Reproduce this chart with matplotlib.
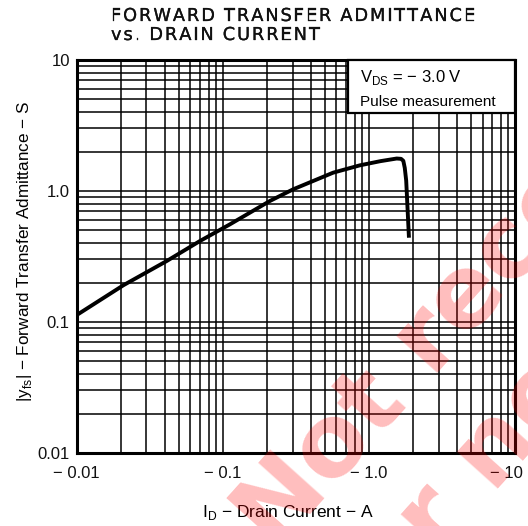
import matplotlib
matplotlib.use("Agg")
import matplotlib.pyplot as plt
import matplotlib.transforms as mtrans
import matplotlib.patheffects as pe
from matplotlib.ticker import LogLocator, FixedLocator, NullFormatter

# --- data (|I_D| in A, |yfs| in S) ---
id_a = [0.01, 0.0209, 0.0413, 0.0697, 0.112, 0.21, 0.303, 0.569, 0.867,
        1.2, 1.55, 1.66, 1.72, 1.76, 1.80, 1.88]
yfs_s = [0.113, 0.191, 0.292, 0.415, 0.557, 0.839, 1.03, 1.38, 1.57,
         1.69, 1.77, 1.76, 1.70, 1.50, 1.20, 0.44]

x_ticks = [0.01, 0.1, 1.0, 10]
x_labels = ["\u2212 0.01", "\u2212 0.1", "\u2212 1.0", "\u2212 10"]
y_ticks = [0.01, 0.1, 1.0, 10]
y_labels = ["0.01", "0.1", "1.0", "10"]

MINUS = "\u2212"

plt.rcParams["font.family"] = ["Liberation Sans", "DejaVu Sans"]
W, H = 528, 526
fig = plt.figure(figsize=(W / 100, H / 100), dpi=100)
ax = fig.add_axes([76.7 / W, 1 - 453 / H, 438.3 / W, 393 / H])

ax.set_xscale("log")
ax.set_yscale("log")
ax.set_xlim(0.01, 10)
ax.set_ylim(0.01, 10)

# grid: full decades + 2..9 lines
ax.xaxis.set_major_locator(FixedLocator(x_ticks))
ax.yaxis.set_major_locator(FixedLocator(y_ticks))
ax.xaxis.set_minor_locator(LogLocator(base=10, subs=range(2, 10)))
ax.yaxis.set_minor_locator(LogLocator(base=10, subs=range(2, 10)))
ax.xaxis.set_minor_formatter(NullFormatter())
ax.yaxis.set_minor_formatter(NullFormatter())
ax.set_xticklabels(x_labels)
ax.set_yticklabels(y_labels)
ax.grid(which="both", color="black", linewidth=1.1)
ax.tick_params(which="both", length=0, labelsize=12, colors="#111111")
ax.tick_params(axis="x", pad=9)
ax.tick_params(axis="y", pad=5)
for sp in ax.spines.values():
    sp.set_linewidth(2.2)

# last x label sits a bit to the left of the frame edge
lbl = ax.get_xticklabels()[-1]
lbl.set_transform(lbl.get_transform() + mtrans.ScaledTranslation(-9 / 100, 0, fig.dpi_scale_trans))

ax.plot(id_a, yfs_s, color="black", linewidth=2.8, solid_capstyle="butt",
        solid_joinstyle="round", zorder=3)

# condition box
fig.patches.append(plt.Rectangle((348 / W, 1 - 113 / H), (515 - 348) / W, (113 - 60) / H,
                                 transform=fig.transFigure, facecolor="white",
                                 edgecolor="black", linewidth=1.6, zorder=5))
fig.text(360 / W, 1 - 82 / H, r"V$_\mathregular{DS}$ = " + MINUS + " 3.0 V",
         fontsize=12, zorder=6)
fig.text(360 / W, 1 - 106 / H, "Pulse measurement", fontsize=11, zorder=6)

ax.set_xlabel(r"I$_\mathregular{D}$ " + MINUS + " Drain Current " + MINUS + " A", fontsize=12.5)
ax.xaxis.set_label_coords((288 - 76.7) / 438.3, -(512 - 453) / 393)
ax.xaxis.label.set_va("center")
ax.set_ylabel(r"|y$_\mathregular{fs}$| " + MINUS + " Forward Transfer Admittance " + MINUS + " S",
              fontsize=12.3)
ax.yaxis.set_label_coords(-(76.7 - 25) / 438.3, (453 - 252) / 393)
ax.yaxis.label.set_va("center")


# title, letter-spaced to the reference width
TFONT = dict(family="DejaVu Sans", fontweight="normal", color="#111111")
THICK = [pe.withStroke(linewidth=0.2, foreground="#111111")]


def char_w(ch, size):
    r = fig.canvas.get_renderer()
    if ch == " ":
        return size * 0.4
    t = fig.text(0, 0, ch, fontsize=size, **TFONT)
    w = t.get_window_extent(r).width
    t.remove()
    return w


def spaced(x0, y0, s, track, size):
    x = x0
    for ch in s:
        if ch != " ":
            fig.text(x / W, 1 - y0 / H, ch, fontsize=size, path_effects=THICK, **TFONT)
        x += char_w(ch, size) + track


t1 = "FORWARD TRANSFER ADMITTANCE"
t2 = "vs. DRAIN CURRENT"
tsize = 12.8
track = (364 - sum(char_w(c, tsize) for c in t1)) / (len(t1) - 1)
spaced(111, 21, t1, track, tsize)
spaced(111, 40, t2, track, tsize)

# watermark
fig.text(275 / W, 1 - 553 / H, "Not recommended", rotation=48, rotation_mode="anchor",
         fontsize=72, fontweight="bold", color="red", alpha=0.26, zorder=10,
         family="DejaVu Sans")
fig.text(362 / W, 1 - 640 / H, "for new design", rotation=48, rotation_mode="anchor",
         fontsize=72, fontweight="bold", color="red", alpha=0.26, zorder=10,
         family="DejaVu Sans")

fig.savefig("out.png", dpi=100)
